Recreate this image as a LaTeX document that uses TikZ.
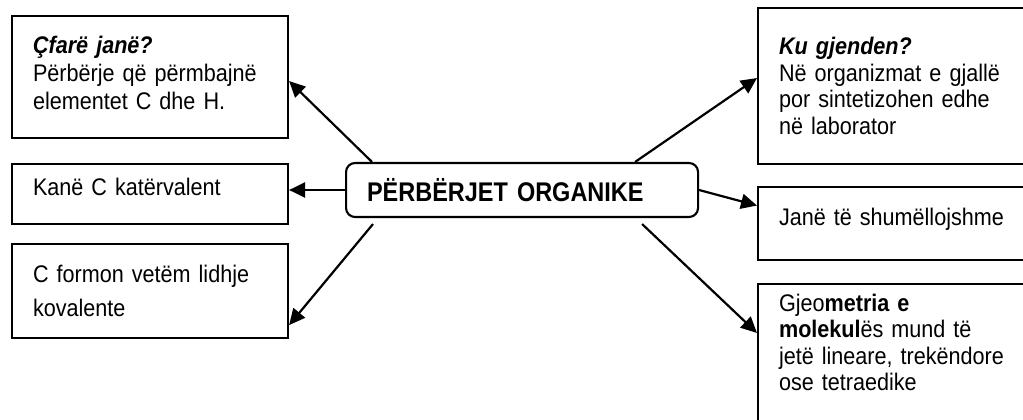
\documentclass[tikz,border=0pt]{standalone}
\usepackage{fontspec}
\setmainfont{Liberation Sans}[FakeStretch=0.9]
\newfontfamily\titlefont{Liberation Sans}[FakeStretch=0.87]
\usetikzlibrary{arrows.meta}

\begin{document}
\begin{tikzpicture}[x=1pt, y=-1pt,
  box/.style={draw, line width=2.1pt, rectangle, anchor=north west, align=left,
    inner xsep=21pt, inner ysep=0pt, font=\fontsize{24}{28}\selectfont},
  arr/.style={-{Triangle[length=16pt,width=15pt]}, line width=2.2pt}]
\useasboundingbox (0,0) rectangle (1023,420);
\clip (0,0) rectangle (1023,420);

% center
\node[draw, line width=2.1pt, rounded corners=9pt, anchor=west, minimum height=54pt,
  text width=310pt, inner xsep=21pt, align=left,
  font=\titlefont\bfseries\fontsize{27}{30}\selectfont] (org) at (345,190) {PËRBËRJET ORGANIKE};

% left
\node[box, text width=234pt, minimum height=122pt, text depth=64pt] (what) at (11,15)
  {\textbf{\textit{Çfarë janë?}}\\Përbërje që përmbajnë\\elementet C dhe H.};
\node[box, text width=234pt, minimum height=60pt, text depth=14pt] (kane) at (11,163) {Kanë C katërvalent};
\node[box, text width=234pt, minimum height=94pt, font=\fontsize{24}{34}\selectfont] (cov) at (11,243)
  {C formon vetëm lidhje\\kovalente};

% right
\node[box, text width=241pt, minimum height=156pt, font=\fontsize{24}{26.5}\selectfont] (where) at (757,7)
  {\textbf{\textit{Ku gjenden?}}\\Në organizmat e gjallë\\por sintetizohen edhe\\në laborator};
\node[box, text width=241pt, minimum height=73pt, text depth=14pt] (kinds) at (757,186) {Janë të shumëllojshme};
\node[box, text width=241pt, minimum height=150pt, text depth=113pt, font=\fontsize{24}{26.5}\selectfont] (geo) at (757,283)
  {Gjeo\textbf{metria e}\\\textbf{molekul}ës mund të\\jetë lineare, trekëndore\\ose tetraedike};

\draw[arr] ([xshift=27pt]org.north west) -- ([yshift=-4pt]what.east);
\draw[arr] (org.west) -- (org.west -| kane.east);
\draw[arr] ([xshift=28pt,yshift=-6pt]org.south west) -- ([yshift=14pt]cov.south east);
\draw[arr] ([xshift=-64pt]org.north east) -- ([yshift=8pt]where.west);
\draw[arr] (org.east) -- ([yshift=18pt]kinds.west);
\draw[arr] ([xshift=-57pt,yshift=-6pt]org.south east) -- ([yshift=-50pt]geo.north west);
\end{tikzpicture}
\end{document}
